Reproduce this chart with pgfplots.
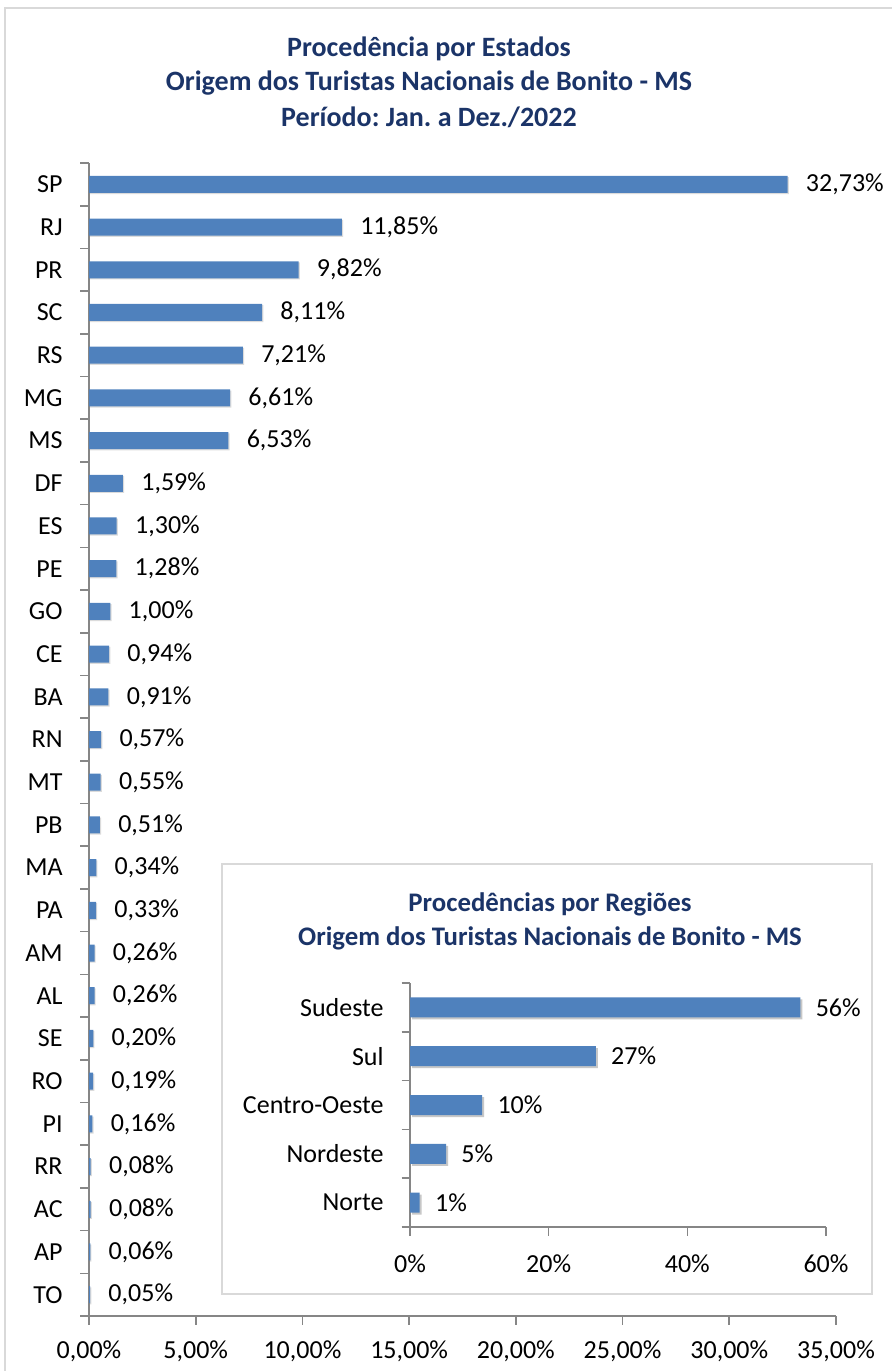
\documentclass[border=0pt]{standalone}
\usepackage{pgfplots}
\pgfplotsset{compat=1.18}
\usepackage{pgfplotstable}
\usepackage{fontspec}
\setmainfont{Carlito}
\frenchspacing
\definecolor{barblue}{HTML}{4F81BD}
\definecolor{titleblue}{HTML}{1B3468}
\definecolor{axisgray}{HTML}{868686}
\definecolor{framegray}{HTML}{D9D9D9}

\pgfplotstableread{
pos val lab
0 32.73 32,73
1 11.85 11,85
2 9.82 9,82
3 8.11 8,11
4 7.21 7,21
5 6.61 6,61
6 6.53 6,53
7 1.59 1,59
8 1.30 1,30
9 1.28 1,28
10 1.00 1,00
11 0.94 0,94
12 0.91 0,91
13 0.57 0,57
14 0.55 0,55
15 0.51 0,51
16 0.34 0,34
17 0.33 0,33
18 0.26 0,26
19 0.26 0,26
20 0.20 0,20
21 0.19 0,19
22 0.16 0,16
23 0.08 0,08
24 0.08 0,08
25 0.06 0,06
26 0.05 0,05
}\states

\pgfplotstableread{
pos val lab
0 56.3 56
1 26.8 27
2 10.4 10
3 5.2 5
4 1.4 1
}\regions

\newcommand{\fs}{\fontsize{13pt}{15pt}\selectfont}
\newcommand{\ft}{\fontsize{14pt}{16pt}\selectfont}
\newcommand{\fti}{\fontsize{13.4pt}{16pt}\selectfont}

\begin{document}
\begin{tikzpicture}
\path[use as bounding box] (0,0) rectangle (446pt,685.5pt);
\draw[framegray, line width=0.8pt] (2.5pt,-2pt) -- (2.5pt,681.5pt) -- (450pt,681.5pt);

% main title
\node[font=\ft\bfseries, text=titleblue] at (214.5pt,661pt) {Procedência por Estados};
\node[font=\ft\bfseries, text=titleblue] at (214.5pt,644pt) {Origem dos Turistas Nacionais de Bonito - MS};
\node[font=\ft\bfseries, text=titleblue] at (214.5pt,627pt) {Período: Jan. a Dez./2022};

\begin{axis}[
  at={(44.5pt,27.5pt)}, anchor=south west,
  scale only axis, width=373.5pt, height=576.5pt,
  xbar, bar width=8.5pt,
  xmin=0, xmax=35,
  ymin=-0.5, ymax=26.5, y dir=reverse,
  axis lines*=left,
  axis line style={axisgray, line width=0.8pt},
  tick style={axisgray, line width=0.8pt},
  tick align=outside, major tick length=4.25pt,
  xtick={0,5,...,35},
  xticklabels={{0,00\%},{5,00\%},{10,00\%},{15,00\%},{20,00\%},{25,00\%},{30,00\%},{35,00\%}},
  ytick={-0.5,0.5,...,26.5},
  y tick label as interval,
  yticklabels={SP,RJ,PR,SC,RS,MG,MS,DF,ES,PE,GO,CE,BA,RN,MT,PB,MA,PA,AM,AL,SE,RO,PI,RR,AC,AP,TO},
  ticklabel style={font=\fs},
  yticklabel style={inner sep=0pt, anchor=east, xshift=-8.75pt},
  xticklabel style={inner sep=0pt, anchor=north, yshift=-8pt},
  clip=false,
]
\addplot[fill=black!14, draw=none, bar shift=0pt, xshift=0.6pt, yshift=-0.6pt, forget plot] table[x=val, y=pos] {\states};
\addplot[fill=barblue, draw=none, bar shift=0pt,
  point meta=explicit symbolic,
  nodes near coords={\pgfplotspointmeta\%},
  nodes near coords style={font=\fs, text=black, anchor=west, inner sep=0pt, xshift=9pt},
] table[x=val, y=pos, meta=lab] {\states};
\end{axis}

% inset
\draw[framegray, line width=0.8pt, fill=white] (111pt,38.5pt) rectangle (436pt,253.5pt);
\node[font=\fti\bfseries, text=titleblue] at (275pt,233.5pt) {Procedências por Regiões};
\node[font=\fti\bfseries, text=titleblue] at (275pt,216.5pt) {Origem dos Turistas Nacionais de Bonito - MS};

\begin{axis}[
  at={(205pt,72pt)}, anchor=south west,
  scale only axis, width=208pt, height=122pt,
  xbar, bar width=10pt,
  xmin=0, xmax=60,
  ymin=-0.5, ymax=4.5, y dir=reverse,
  axis lines*=left,
  axis line style={axisgray, line width=0.8pt},
  tick style={axisgray, line width=0.8pt},
  tick align=outside, major tick length=4.25pt,
  xtick={0,20,40,60},
  xticklabels={0\%,20\%,40\%,60\%},
  ytick={-0.5,0.5,...,4.5},
  y tick label as interval,
  yticklabels={Sudeste,Sul,Centro-Oeste,Nordeste,Norte},
  ticklabel style={font=\fs},
  yticklabel style={inner sep=0pt, anchor=east, xshift=-8.75pt},
  xticklabel style={inner sep=0pt, anchor=north, yshift=-9.5pt},
  clip=false,
]
\addplot[fill=black!22, draw=none, bar shift=0pt, xshift=1pt, yshift=-1pt, forget plot] table[x=val, y=pos] {\regions};
\addplot[fill=barblue, draw=none, bar shift=0pt,
  point meta=explicit symbolic,
  nodes near coords={\pgfplotspointmeta\%},
  nodes near coords style={font=\fs, text=black, anchor=west, inner sep=0pt, xshift=7.5pt},
] table[x=val, y=pos, meta=lab] {\regions};
\end{axis}
\end{tikzpicture}
\end{document}
